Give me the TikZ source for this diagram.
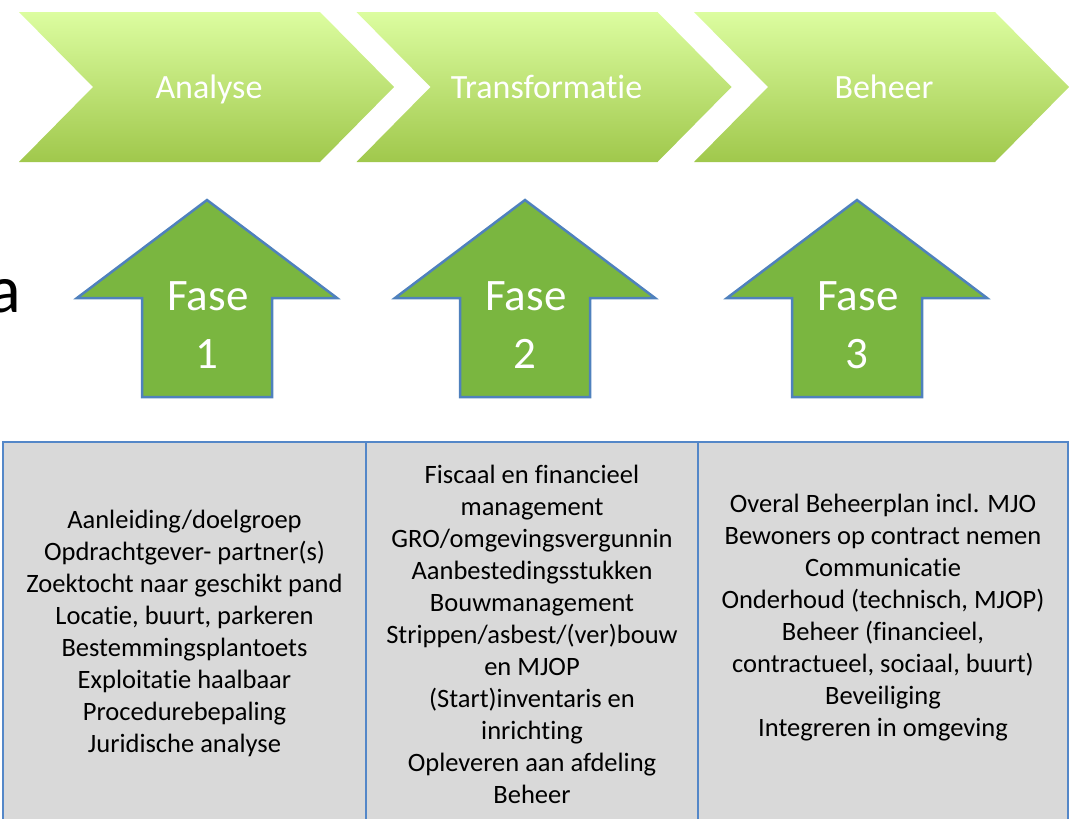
\documentclass[tikz,border=0pt]{standalone}
\usepackage{fontspec}
\setmainfont[RawFeature={-liga;-clig;-dlig;-calt;-rlig}]{Carlito}
\definecolor{chevtop}{RGB}{220,253,160}
\definecolor{chevbot}{RGB}{160,200,76}
\definecolor{arrowfill}{RGB}{122,182,64}
\definecolor{arrowline}{RGB}{79,129,189}
\definecolor{cellfill}{RGB}{217,217,217}
\definecolor{cellline}{RGB}{84,135,200}
\tikzset{
  chevron/.style={top color=chevtop, bottom color=chevbot, draw=none},
  chevtext/.style={text=white, font=\fontsize{34}{40}\selectfont, anchor=base, inner sep=0pt},
  uparrow/.style={fill=arrowfill, draw=arrowline, line width=2.5pt, line join=miter},
  fasetext/.style={text=white, font=\fontsize{45}{58}\selectfont, anchor=base, inner sep=0pt},
  cellbox/.style={fill=cellfill, draw=cellline, line width=1.6pt},
  celltext/.style={text=black, font=\fontsize{26.5}{32}\selectfont, align=center, inner sep=0pt, anchor=center},
}
\begin{document}
\begin{tikzpicture}[x=1pt,y=-1pt]
\useasboundingbox (0,0) rectangle (1072,819);
% chevrons
\foreach \i/\lbl/\nm in {0/Analyse/chA,1/Transformatie/chT,2/Beheer/chB}{
  \pgfmathsetmacro{\L}{19+337.5*\i}
  \shade[chevron] (\L,12) -- (\L+301,12) -- (\L+375,87) -- (\L+301,162) -- (\L,162) -- (\L+74,87) -- cycle;
  \node[chevtext] (\nm) at (\L+190,98) {\lbl};
}
% big letter at left
\node[font=\fontsize{68}{80}\selectfont, anchor=base east, inner sep=0pt] (bigA) at (21,312) {a};
% up arrows
\foreach \c/\n in {207/1,525/2,857/3}{
  \draw[uparrow] (\c,200) -- (\c+130,298) -- (\c+65,298) -- (\c+65,397) -- (\c-65,397) -- (\c-65,298) -- (\c-130,298) -- cycle;
  \node[fasetext] (fase\n) at (\c+1,310) {Fase};
  \node[fasetext] (num\n) at (\c,368) {\n};
}
% table
\draw[cellbox] (3,442) rectangle (366,840);
\draw[cellbox] (366,442) rectangle (698,840);
\draw[cellbox] (698,442) rectangle (1068,840);
\node[celltext] (col1) at (184.5,633) {Aanleiding/doelgroep\\Opdrachtgever- partner(s)\\Zoektocht naar geschikt pand\\Locatie, buurt, parkeren\\Bestemmingsplantoets\\Exploitatie haalbaar\\Procedurebepaling\\Juridische analyse};
\node[celltext] (col2) at (532,634) {Fiscaal en financieel\\management\\GRO/omgevingsvergunnin\\Aanbestedingsstukken\\Bouwmanagement\\Strippen/asbest/(ver)bouw\\en MJOP\\(Start)inventaris en\\inrichting\\Opleveren aan afdeling\\Beheer};
\node[celltext] (col3) at (883,618) {Overal Beheerplan incl. MJO\\Bewoners op contract nemen\\Communicatie\\Onderhoud (technisch, MJOP)\\Beheer (financieel,\\contractueel, sociaal, buurt)\\Beveiliging\\Integreren in omgeving};
\end{tikzpicture}
\end{document}
